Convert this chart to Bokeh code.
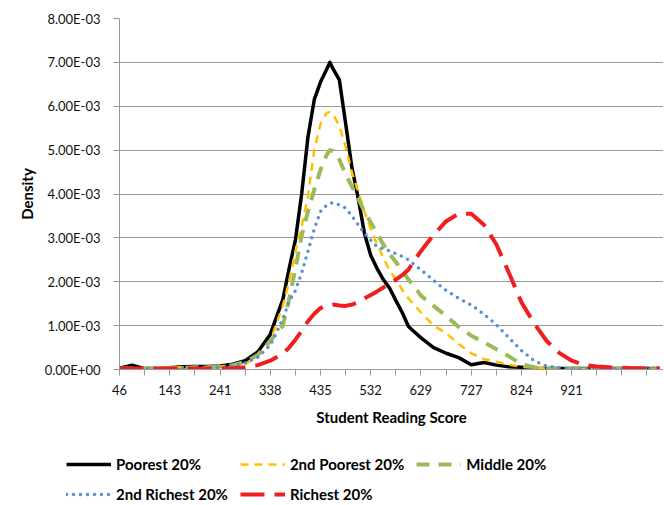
from bokeh.plotting import figure
from bokeh.layouts import column
from bokeh.models import (ColumnDataSource, FixedTicker, CustomJSTickFormatter,
                          Legend, LegendItem)
from bokeh.embed import file_html
from bokeh.resources import INLINE

# Student reading score (x) and kernel density per wealth quintile (values in units of 1E-03)
scores = [46.0, 70.3, 94.6, 119.0, 143.3, 167.6, 191.9, 216.2, 240.6, 264.9,
          289.2, 313.5, 337.8, 362.2, 374.3, 386.5, 398.6, 410.8, 423.0, 435.1,
          447.3, 453.4, 459.4, 471.6, 483.8, 495.9, 508.1, 520.2, 532.4, 544.6, 556.7,
          568.9, 581.0, 593.2, 605.4, 617.5, 629.7, 654.0, 678.3, 702.6, 727.0,
          751.3, 775.6, 799.9, 824.2, 848.6, 872.9, 897.2, 921.5, 945.8, 970.2,
          994.5, 1018.8, 1043.1, 1067.4, 1091.8]

poorest = [0.03, 0.10, 0.02, 0.02, 0.04, 0.06, 0.07, 0.07, 0.08, 0.12,
           0.20, 0.40, 0.80, 1.60, 2.30, 2.95, 4.00, 5.30, 6.15, 6.55,
           6.85, 7.00, 6.85, 6.60, 5.60, 4.60, 3.90, 3.10, 2.60, 2.30, 2.05,
           1.85, 1.57, 1.30, 0.98, 0.85, 0.72, 0.50, 0.37, 0.27, 0.11,
           0.16, 0.10, 0.06, 0.05, 0.03, 0.02, 0.02, 0.02, 0.02, 0.02,
           0.02, 0.02, 0.02, 0.02, 0.02]

second_poorest = [0.02, 0.02, 0.02, 0.03, 0.04, 0.05, 0.05, 0.06, 0.07, 0.10,
                  0.12, 0.30, 0.65, 1.45, 2.00, 2.70, 3.26, 3.95, 5.00, 5.60,
                  5.85, 5.87, 5.82, 5.55, 5.08, 4.49, 4.05, 3.60, 3.20, 2.85, 2.55,
                  2.25, 2.05, 1.82, 1.62, 1.46, 1.30, 1.00, 0.83, 0.58, 0.37,
                  0.24, 0.18, 0.11, 0.06, 0.04, 0.02, 0.02, 0.02, 0.02, 0.02,
                  0.02, 0.02, 0.02, 0.02, 0.02]

middle = [0.02, 0.02, 0.02, 0.03, 0.04, 0.04, 0.05, 0.05, 0.06, 0.10,
          0.17, 0.33, 0.65, 1.00, 1.60, 2.30, 3.05, 3.60, 4.10, 4.55,
          4.90, 5.00, 4.98, 4.78, 4.45, 4.17, 3.90, 3.60, 3.35, 3.10, 2.85,
          2.63, 2.45, 2.25, 2.05, 1.88, 1.68, 1.45, 1.22, 0.97, 0.77,
          0.62, 0.46, 0.30, 0.12, 0.05, 0.02, 0.02, 0.02, 0.02, 0.02,
          0.02, 0.02, 0.02, 0.02, 0.02]

second_richest = [0.01, 0.02, 0.02, 0.02, 0.03, 0.03, 0.04, 0.04, 0.05, 0.07,
                  0.15, 0.28, 0.55, 1.15, 1.55, 1.80, 2.20, 2.70, 3.20, 3.60,
                  3.75, 3.79, 3.80, 3.75, 3.68, 3.50, 3.30, 3.10, 2.95, 2.80, 2.75,
                  2.70, 2.64, 2.58, 2.50, 2.38, 2.27, 2.03, 1.80, 1.62, 1.47,
                  1.26, 1.02, 0.72, 0.43, 0.20, 0.08, 0.04, 0.02, 0.02, 0.02,
                  0.02, 0.02, 0.02, 0.02, 0.02]

richest = [0.02, 0.02, 0.02, 0.02, 0.02, 0.02, 0.02, 0.02, 0.02, 0.03,
           0.05, 0.10, 0.20, 0.36, 0.50, 0.68, 0.88, 1.10, 1.27, 1.40,
           1.46, 1.47, 1.48, 1.46, 1.45, 1.48, 1.53, 1.62, 1.70, 1.78, 1.87,
           1.95, 2.05, 2.15, 2.28, 2.50, 2.70, 3.07, 3.38, 3.55, 3.55,
           3.30, 2.85, 2.20, 1.53, 1.05, 0.65, 0.38, 0.20, 0.10, 0.07,
           0.05, 0.04, 0.03, 0.02, 0.02]

x_tick_labels = [46, 143, 241, 338, 435, 532, 629, 727, 824, 921]
y_ticks = [0.0, 0.001, 0.002, 0.003, 0.004, 0.005, 0.006, 0.007, 0.008]

series = [
    ("Poorest 20%", poorest, "#000000", None, 3.5),
    ("2nd Poorest 20%", second_poorest, "#FFC000", "8 6", 2.5),
    ("Middle 20%", middle, "#9BBB59", "13 9", 4),
    ("2nd Richest 20%", second_richest, "#5690D6", "0 7", 3.5),
    ("Richest 20%", richest, "#F01E1E", "24 10", 4),
]

data = {"score": scores}
for i, (_, vals, _, _, _) in enumerate(series):
    data["s%d" % i] = [v * 1e-3 for v in vals]
src = ColumnDataSource(data)

GRAY = "#989898"
FONT = "Lato"

p = figure(width=663, height=440, x_range=(46, 1099), y_range=(0, 0.008),
           output_backend="svg", toolbar_location=None,
           min_border_left=119, min_border_right=0, min_border_top=18,
           min_border_bottom=71)
p.outline_line_color = None
p.background_fill_color = "white"
p.frame_align = False

# legend strip below the chart (its renderers hold no drawable point)
leg = figure(width=663, height=63, x_range=(0, 1), y_range=(0, 1),
             output_backend="svg", toolbar_location=None, min_border=0)
leg.axis.visible = False
leg.grid.visible = False
leg.outline_line_color = None
leg.frame_align = False
empty = ColumnDataSource(dict(x=[float("nan")], y=[float("nan")]))

items = []
for i, (name, _, color, dash, w) in enumerate(series):
    kw = dict(line_color=color, line_width=w, line_join="round")
    if dash is not None:
        kw["line_dash"] = dash
    if i == 3:
        kw["line_cap"] = "round"
    p.line("score", "s%d" % i, source=src, **kw)
    r = leg.line("x", "y", source=empty, **kw)
    items.append(LegendItem(label=name, renderers=[r]))

p.xgrid.visible = False
p.ygrid.grid_line_color = GRAY
p.ygrid.grid_line_width = 1

# x axis
mids = [(a + b) / 2 for a, b in zip(x_tick_labels[:-1], x_tick_labels[1:])]
step = x_tick_labels[-1] - x_tick_labels[-2]
extra = [x_tick_labels[-1] + step / 2, x_tick_labels[-1] + step, x_tick_labels[-1] + 1.5 * step]
p.xaxis.ticker = FixedTicker(ticks=x_tick_labels, minor_ticks=mids + extra)
p.xaxis.axis_label = "Student Reading Score"

# y axis
p.yaxis.ticker = FixedTicker(ticks=y_ticks)
p.yaxis.formatter = CustomJSTickFormatter(code="""
    const s = tick.toExponential(2);
    const parts = s.split('e');
    let n = parseInt(parts[1]);
    const sign = n < 0 ? '-' : '+';
    n = Math.abs(n);
    return parts[0] + 'E' + sign + (n < 10 ? '0' : '') + n;
""")
p.yaxis.axis_label = "Density"

for ax in (p.xaxis[0], p.yaxis[0]):
    ax.axis_line_color = GRAY
    ax.major_tick_line_color = GRAY
    ax.major_tick_in = 0
    ax.major_tick_out = 6
    ax.minor_tick_in = 0
    ax.minor_tick_out = 6
    ax.major_label_text_font = FONT
    ax.major_label_text_font_size = "13px"
    ax.major_label_text_color = "#111111"
    ax.axis_label_text_font = FONT
    ax.axis_label_text_font_style = "bold"
    ax.axis_label_text_font_size = "15px"
    ax.axis_label_text_color = "#000000"
p.xaxis.minor_tick_line_color = GRAY
p.yaxis.minor_tick_line_color = None

p.xaxis.major_label_standoff = 9
p.xaxis.axis_label_standoff = 10
p.yaxis.major_label_standoff = 13
p.yaxis.axis_label_standoff = 6

legend = Legend(items=items, location=(66, 0), orientation="horizontal", ncols=3,
                label_text_font=FONT, label_text_font_style="bold",
                label_text_font_size="15px", label_text_color="#000000",
                glyph_width=45, glyph_height=18, label_height=18,
                label_standoff=5, spacing=12, padding=0, margin=0,
                border_line_color=None, background_fill_alpha=0)
leg.add_layout(legend, "center")

open("out.html", "w").write(file_html(column(p, leg, spacing=0), INLINE))
